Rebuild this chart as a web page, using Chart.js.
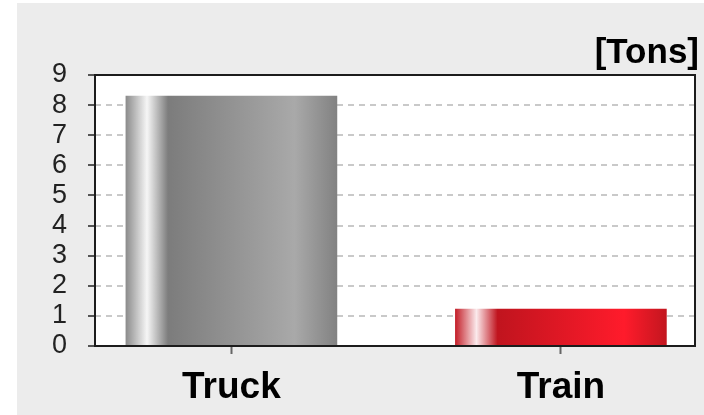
<!DOCTYPE html>
<html>
<head>
<meta charset="utf-8">
<script src="https://cdn.jsdelivr.net/npm/chart.js@4/dist/chart.umd.min.js"></script>
<style>
  html, body { margin: 0; padding: 0; background: #ffffff; }
  #wrap { position: absolute; left: 17px; top: 3px; width: 687px; height: 412px; background: #ececec; }
</style>
</head>
<body>
<div id="wrap"><canvas id="chart" width="687" height="412"></canvas></div>
<script>
'use strict';

// data
let categories = ['Truck', 'Train'];
let tons = [8.3, 1.23];
let yTicks = [0, 1, 2, 3, 4, 5, 6, 7, 8, 9];
let unitLabel = '[Tons]';

const FONT = 'Arial, "Liberation Sans", sans-serif';

// horizontal "cylinder" shading for each bar
let barStops = [
    [[0, '#8c8c8c'], [0.1, '#f6f6f6'], [0.2, '#7c7c7c'], [0.8, '#a9a9a9'], [1, '#828282']],
    [[0, '#c4202a'], [0.1, '#fbeaec'], [0.2, '#c0141e'], [0.8, '#ff1b2b'], [1, '#c3161f']]
];
const BAR_W = 211;

function barFill(ctx) {
    let chart = ctx.chart;
    let x = chart.scales.x;
    if (!chart.chartArea || !x) return '#888888';
    let cx = x.getPixelForValue(ctx.dataIndex);
    let g = chart.ctx.createLinearGradient(cx - BAR_W / 2, 0, cx + BAR_W / 2, 0);
    barStops[ctx.dataIndex].forEach(s => g.addColorStop(s[0], s[1]));
    return g;
}

// white plot area + black frame + unit label
let plotFrame = {
    id: 'plotFrame',
    beforeDraw(chart) {
        let a = chart.chartArea, c = chart.ctx;
        c.save();
        c.fillStyle = '#ffffff';
        c.fillRect(a.left, a.top, a.right - a.left, a.bottom - a.top);
        c.restore();
    },
    afterDatasetsDraw(chart) {
        let a = chart.chartArea, c = chart.ctx;
        c.save();
        c.strokeStyle = '#1c1c1c';
        c.lineWidth = 2;
        c.strokeRect(a.left, a.top, a.right - a.left, a.bottom - a.top);
        c.fillStyle = '#000000';
        c.font = 'bold 35px ' + FONT;
        c.textAlign = 'right';
        c.textBaseline = 'alphabetic';
        c.fillText(unitLabel, 682, 60);
        c.restore();
    }
};

function renderChart() {
    let chartObj = {
        type: 'bar',
        data: {
            datasets: [{
                data: tons.map((v, i) => ({ x: i, y: v })),
                backgroundColor: barFill,
                borderWidth: 0,
                barThickness: BAR_W
            }]
        },
        options: {
            responsive: false,
            animation: false,
            layout: { padding: { top: 72, right: 9, left: 0, bottom: 0 } },
            plugins: { legend: { display: false }, tooltip: { enabled: false } },
            scales: {
                x: {
                    type: 'linear',
                    offset: false,
                    min: -0.414,
                    max: 1.407,
                    afterBuildTicks: s => { s.ticks = categories.map((_, i) => ({ value: i })); },
                    afterFit: s => { s.height = 69; },
                    ticks: {
                        callback: v => categories[v],
                        color: '#000000',
                        font: { family: FONT, size: 37, weight: 'bold' },
                        padding: 12,
                        maxRotation: 0,
                        autoSkip: false
                    },
                    grid: { offset: false, drawOnChartArea: false, tickLength: 8, tickColor: '#666666', tickWidth: 2 },
                    border: { display: false }
                },
                y: {
                    min: 0,
                    max: 9,
                    afterBuildTicks: s => { s.ticks = yTicks.map(v => ({ value: v })); },
                    afterFit: s => { s.width = 78; },
                    ticks: {
                        color: '#222222',
                        font: { family: FONT, size: 27 },
                        padding: 21,
                        autoSkip: false
                    },
                    grid: {
                        color: c => (c.tick && (c.tick.value === 0 || c.tick.value === 9)) ? 'rgba(0,0,0,0)' : '#c9c9c9',
                        lineWidth: 2,
                        tickLength: 7,
                        tickColor: '#555555',
                        tickWidth: 2,
                        tickBorderDash: []
                    },
                    border: { display: false, dash: [6, 5] }
                }
            }
        },
        plugins: [plotFrame]
    };

    new Chart(document.getElementById('chart'), chartObj);
}

renderChart();
</script>
</body>
</html>
